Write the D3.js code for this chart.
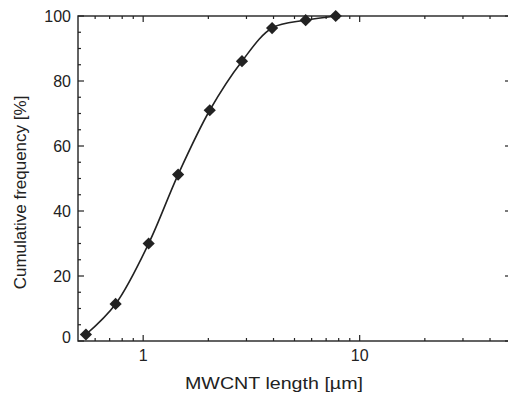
<!DOCTYPE html>
<html>
<head>
<meta charset="utf-8">
<script src="https://cdn.jsdelivr.net/npm/d3@7"></script>
<style>
  body { margin: 0; background: #fff; }
  svg { display: block; }
  text { font-family: "Liberation Sans", Arial, sans-serif; fill: #222; }
  .tick-label { font-size: 16px; }
  .axis-title { font-size: 17px; }
  .frame { fill: none; stroke: #222; stroke-width: 1.4; }
  .tick { stroke: #222; stroke-width: 1.2; }
</style>
</head>
<body>
<script>
const W = 508, H = 396
const MARGINS = { top: 16, right: -3, bottom: 55, left: 78 }

// data: MWCNT length [um] vs cumulative frequency [%]
const lengths = [0.544, 0.746, 1.06, 1.45, 2.03, 2.86, 3.94, 5.63, 7.75]
const cumFreq = [2.0, 11.4, 30.0, 51.2, 71.0, 86.1, 96.3, 98.7, 100]

const xDomain = [0.5, 50]
const yDomain = [0, 100]
const xMajor = [1, 10]
const xMinor = [0.6, 0.7, 0.8, 0.9, 2, 3, 4, 5, 6, 7, 8, 9, 20, 30, 40, 50]
const yMajor = [0, 20, 40, 60, 80, 100]
const yMinor = [5, 10, 15, 25, 30, 35, 45, 50, 55, 65, 70, 75, 85, 90, 95]

const xTitle = 'MWCNT length [µm]'
const yTitle = 'Cumulative frequency [%]'

const width = W - MARGINS.left - MARGINS.right
const height = H - MARGINS.top - MARGINS.bottom

const x = d3.scaleLog().domain(xDomain).range([0, width])
const y = d3.scaleLinear().domain(yDomain).range([height, 0])

const svg = d3.select('body').append('svg')
    .attr('width', W)
    .attr('height', H)
  .append('g')
    .attr('transform', 'translate(' + [MARGINS.left, MARGINS.top] + ')')

const MAJOR = 6, MINOR = 3

// inward ticks on all four sides
function xTicks(vals, len) {
  svg.selectAll(null).data(vals).enter().append('line')
    .attr('class', 'tick')
    .attr('x1', d => x(d)).attr('x2', d => x(d))
    .attr('y1', height).attr('y2', height - len)
  svg.selectAll(null).data(vals).enter().append('line')
    .attr('class', 'tick')
    .attr('x1', d => x(d)).attr('x2', d => x(d))
    .attr('y1', 0).attr('y2', len)
}
function yTicks(vals, len) {
  svg.selectAll(null).data(vals).enter().append('line')
    .attr('class', 'tick')
    .attr('y1', d => y(d)).attr('y2', d => y(d))
    .attr('x1', 0).attr('x2', len)
  svg.selectAll(null).data(vals).enter().append('line')
    .attr('class', 'tick')
    .attr('y1', d => y(d)).attr('y2', d => y(d))
    .attr('x1', width).attr('x2', width - len)
}
xTicks(xMajor, MAJOR)
xTicks(xMinor, MINOR)
yTicks(yMajor, MAJOR)
yTicks(yMinor, MINOR)

svg.append('rect')
  .attr('class', 'frame')
  .attr('width', width)
  .attr('height', height)

// tick labels
svg.selectAll(null).data(xMajor).enter().append('text')
  .attr('class', 'tick-label')
  .attr('x', d => x(d))
  .attr('y', height + 20)
  .attr('text-anchor', 'middle')
  .text(d => d)

svg.selectAll(null).data(yMajor).enter().append('text')
  .attr('class', 'tick-label')
  .attr('x', -7)
  .attr('y', d => y(d))
  .attr('dy', d => d === 0 ? '0.1em' : '0.36em')
  .attr('text-anchor', 'end')
  .text(d => d)

// titles
svg.append('text')
  .attr('class', 'axis-title')
  .attr('x', 107)
  .attr('y', height + 48)
  .attr('textLength', 178)
  .attr('lengthAdjust', 'spacingAndGlyphs')
  .text(xTitle)

svg.append('text')
  .attr('class', 'axis-title')
  .attr('transform', 'translate(-52,' + (height / 2 + 14) + ') rotate(-90)')
  .attr('text-anchor', 'middle')
  .text(yTitle)

// curve + markers
const pts = lengths.map((d, i) => [x(d), y(cumFreq[i])])

svg.append('path')
  .attr('d', d3.line().curve(d3.curveCatmullRom.alpha(0.5))(pts))
  .attr('fill', 'none')
  .attr('stroke', '#222')
  .attr('stroke-width', 1.6)

svg.selectAll(null).data(pts).enter().append('path')
  .attr('d', d3.symbol(d3.symbolDiamond2, 95)())
  .attr('transform', d => 'translate(' + d + ')')
  .attr('fill', '#222')
</script>
</body>
</html>
